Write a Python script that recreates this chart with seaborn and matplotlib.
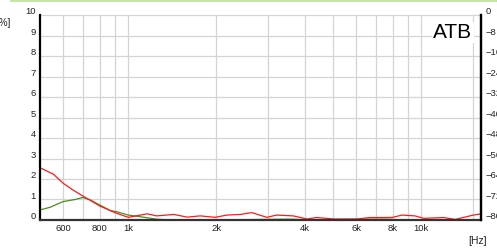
import numpy as np
import pandas as pd
import matplotlib
matplotlib.use("Agg")
import matplotlib.pyplot as plt
import matplotlib.transforms as mtransforms
from matplotlib.lines import Line2D
import seaborn as sns

# =========================
# DATA
# =========================
red_freq = [500, 556, 600, 650, 700, 750, 800, 850, 900, 1000, 1100, 1160, 1250,
            1430, 1590, 1760, 1980, 2170, 2410, 2640, 2970, 3210, 3660, 4070,
            4400, 5020, 6030, 6700, 7930, 8600, 9520, 10200, 11900, 13060,
            15060, 16000]
red_val = [2.55, 2.23, 1.79, 1.45, 1.17, 0.92, 0.68, 0.52, 0.36, 0.13, 0.24, 0.30, 0.20,
           0.27, 0.14, 0.20, 0.13, 0.24, 0.27, 0.36, 0.13, 0.24, 0.20, 0.05,
           0.12, 0.05, 0.05, 0.12, 0.12, 0.24, 0.20, 0.08, 0.12, 0.03,
           0.24, 0.30]

green_freq = [500, 541, 600, 659, 700, 742, 800, 868, 915, 1000, 1100, 1250, 1390,
              2000, 3000, 3500, 4000, 5000, 6500, 7500, 9000, 12000, 16000]
green_val = [0.49, 0.62, 0.90, 1.00, 1.10, 0.98, 0.73, 0.46, 0.40, 0.24, 0.16, 0.04, 0.0,
             0.0, 0.03, 0.04, 0.02, 0.0, 0.04, 0.04, 0.0, 0.0, 0.0]

x_ticks = [600, 800, 1000, 2000, 4000, 6000, 8000, 10000]
x_ticklabels = ["600", "800", "1k", "2k", "4k", "6k", "8k", "10k"]
x_grid = [600, 700, 800, 900, 1000, 2000, 3000, 4000, 5000, 6000, 7000, 8000,
          9000, 10000, 15000]
y_ticks = list(range(0, 11))
right_ticks = list(range(-80, 1, 8))

# =========================
# PLOT
# =========================
sns.set_style("white")
plt.rcParams['font.family'] = ['Liberation Sans', 'DejaVu Sans']

fig = plt.figure(figsize=(4.97, 2.49), dpi=100)
ax = fig.add_axes([0.0805, 0.1165, 0.8875, 0.823])

df_red = pd.DataFrame({"f": red_freq, "v": red_val})
df_green = pd.DataFrame({"f": green_freq, "v": green_val})
sns.lineplot(data=df_green, x="f", y="v", ax=ax, color="#4c8c1c", lw=0.9)
sns.lineplot(data=df_red, x="f", y="v", ax=ax, color="#ff1a1a", lw=0.9)

ax.set_xscale("log")
ax.set_xlim(500, 16000)
ax.set_ylim(0, 10)
ax.set_xlabel("")
ax.set_ylabel("")

for g in x_grid:
    ax.axvline(g, color="#d4d4d4", lw=0.9, zorder=0)
for yv in y_ticks[1:]:
    ax.axhline(yv, color="#d4d4d4", lw=0.9, zorder=0, clip_on=False)

ax.set_xticks(x_ticks)
ax.set_xticklabels(x_ticklabels)
ax.xaxis.set_minor_locator(matplotlib.ticker.NullLocator())
ax.set_yticks(y_ticks)
ax.tick_params(axis="both", labelsize=6.8, length=0, pad=3, colors="#222222")

ax.spines["top"].set_visible(False)
ax.spines["left"].set_color("black")
ax.spines["left"].set_linewidth(1.6)
ax.spines["right"].set_color("black")
ax.spines["right"].set_linewidth(1.6)
ax.spines["bottom"].set_color("#333333")
ax.spines["bottom"].set_linewidth(1.6)

# shift y labels slightly up, like the reference
up = mtransforms.ScaledTranslation(0, 3 / 72, fig.dpi_scale_trans)
for lab in ax.get_yticklabels():
    lab.set_transform(lab.get_transform() + up)

ax2 = ax.twinx()
ax2.set_ylim(-80, 0)
ax2.set_yticks(right_ticks)
ax2.tick_params(axis="y", labelsize=6.8, length=0, pad=3, colors="#222222")
for s in ["top", "left", "bottom"]:
    ax2.spines[s].set_visible(False)
ax2.spines["right"].set_color("black")
ax2.spines["right"].set_linewidth(1.6)
for lab in ax2.get_yticklabels():
    lab.set_transform(lab.get_transform() + up)

ax.text(0.98, 0.915, "ATB", transform=ax.transAxes, ha="right", va="center",
        fontsize=15, color="black",
        bbox=dict(facecolor="white", edgecolor="none", pad=1))

fig.text(11 / 497, 1 - 23 / 249, "[%]", ha="right", va="center", fontsize=7, color="#222222")
fig.text(487 / 497, 1 - 241 / 249, "[Hz]", ha="right", va="center", fontsize=7.5, color="#222222")

fig.add_artist(Line2D([11 / 497, 1.0], [1 - 1.5 / 249, 1 - 1.5 / 249], transform=fig.transFigure,
                      color="#c5e3a8", lw=1.5))

fig.savefig("out.png", dpi=100)
